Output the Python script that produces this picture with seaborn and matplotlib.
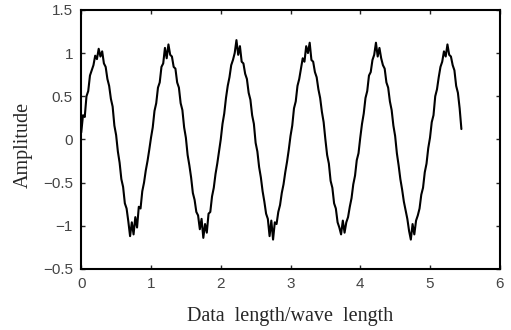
import numpy as np
import pandas as pd
import matplotlib
matplotlib.use("Agg")
import matplotlib.pyplot as plt
import seaborn as sns

# values, one sample every 0.025 wave lengths
step = 0.025
cycle_0 = [0.08, 0.28, 0.26, 0.50, 0.56, 0.74, 0.80, 0.86, 0.97, 0.93,
           1.05, 0.96, 1.02, 0.88, 0.84, 0.70, 0.62, 0.47, 0.38, 0.16,
           0.05, -0.14, -0.27, -0.46, -0.55, -0.74, -0.80, -0.95, -1.12, -0.96,
           -1.10, -0.90, -1.02, -0.78, -0.80, -0.60, -0.50, -0.36, -0.25, -0.12]
cycle_1 = [0.02, 0.14, 0.33, 0.42, 0.60, 0.66, 0.84, 0.88, 1.06, 0.94,
           1.10, 0.98, 0.96, 0.84, 0.82, 0.66, 0.60, 0.42, 0.34, 0.14,
           0.02, -0.18, -0.30, -0.44, -0.62, -0.70, -0.84, -0.88, -1.04, -0.92,
           -1.14, -0.98, -1.08, -0.86, -0.84, -0.66, -0.56, -0.40, -0.28, -0.14]
cycle_2 = [0.00, 0.18, 0.30, 0.48, 0.62, 0.72, 0.86, 0.92, 1.00, 1.15,
           0.98, 1.08, 0.90, 0.88, 0.76, 0.70, 0.54, 0.46, 0.28, 0.18,
           -0.04, -0.14, -0.32, -0.44, -0.60, -0.72, -0.86, -0.92, -1.12, -0.94,
           -1.16, -0.96, -0.98, -0.84, -0.76, -0.62, -0.52, -0.38, -0.26, -0.12]
cycle_3 = [0.04, 0.16, 0.36, 0.44, 0.62, 0.70, 0.82, 0.94, 0.90, 1.08,
           1.00, 1.12, 0.92, 0.90, 0.78, 0.72, 0.58, 0.48, 0.32, 0.20,
           0.00, -0.18, -0.28, -0.48, -0.56, -0.74, -0.80, -0.96, -1.02, -1.10,
           -0.94, -1.08, -0.96, -0.90, -0.78, -0.68, -0.52, -0.42, -0.24, -0.16]
cycle_4 = [0.02, 0.18, 0.30, 0.48, 0.56, 0.74, 0.78, 0.92, 0.98, 1.12,
           0.96, 1.06, 0.94, 0.86, 0.82, 0.66, 0.60, 0.44, 0.34, 0.16,
           0.04, -0.16, -0.30, -0.46, -0.58, -0.72, -0.82, -0.92, -1.06, -1.16,
           -0.98, -1.10, -0.94, -0.88, -0.80, -0.64, -0.56, -0.38, -0.28, -0.10]
cycle_5 = [0.02, 0.20, 0.28, 0.50, 0.58, 0.72, 0.84, 0.90, 1.02, 0.96,
           1.10, 0.98, 0.96, 0.86, 0.80, 0.62, 0.54, 0.36, 0.12]

x_ticks = [0, 1, 2, 3, 4, 5, 6]
y_ticks = [1.5, 1, 0.5, 0, -0.5, -1, -1.5]
# the bottom label in the original reads -0.5 (kept as printed)
y_tick_labels = ["1.5", "1", "0.5", "0", "\u22120.5", "\u22121", "\u22120.5"]

amplitude = cycle_0 + cycle_1 + cycle_2 + cycle_3 + cycle_4 + cycle_5
df = pd.DataFrame({
    "length": np.arange(len(amplitude)) * step,
    "amplitude": amplitude,
})

sns.set_style("ticks")
plt.rcParams["font.family"] = ["Liberation Sans", "DejaVu Sans"]

fig = plt.figure(figsize=(5.11, 3.30), dpi=100)
ax = fig.add_axes([0.159, 0.185, 0.819, 0.785])

sns.lineplot(data=df, x="length", y="amplitude", sort=False,
             color="black", linewidth=1.5, ax=ax)

ax.set_xlim(0, 6)
ax.set_ylim(-1.5, 1.5)
ax.set_xticks(x_ticks)
ax.set_xticklabels([str(t) for t in x_ticks])
ax.set_yticks(y_ticks)
ax.set_yticklabels(y_tick_labels)
ax.tick_params(direction="in", length=3, width=1, top=True, right=True,
               labelsize=11, labelcolor="#444444", pad=6)
for side in ax.spines.values():
    side.set_linewidth(1.5)
    side.set_color("black")

ax.set_xlabel("Data  length/wave  length", family="Liberation Serif",
              fontsize=14.5, labelpad=11)
ax.set_ylabel("Amplitude", family="Liberation Serif", fontsize=14.5)
ax.yaxis.set_label_coords(-0.115, 0.479)

fig.savefig("out.png", dpi=100)
